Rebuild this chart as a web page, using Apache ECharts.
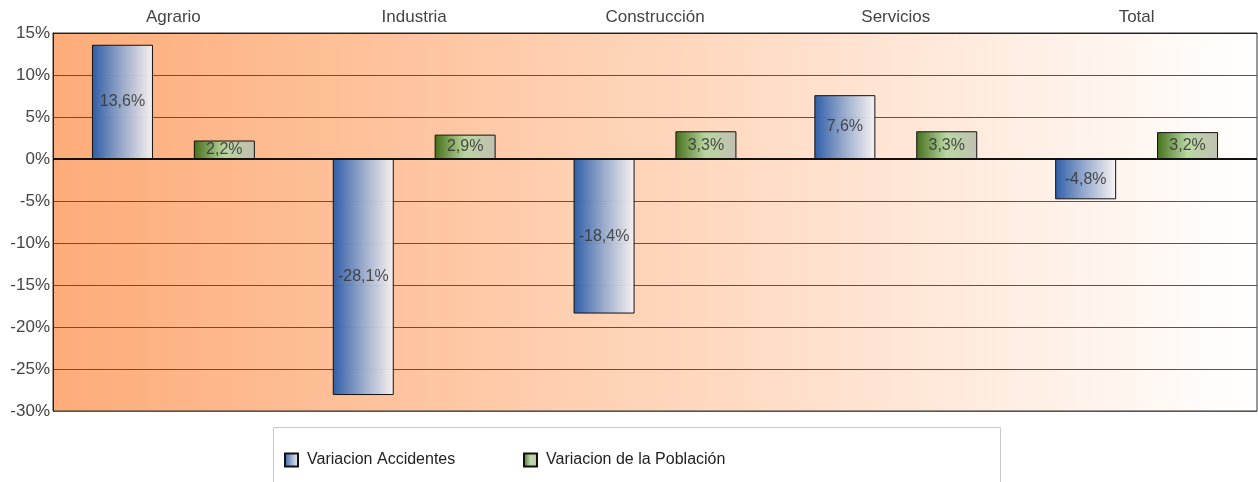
<!DOCTYPE html>
<html>
<head>
<meta charset="utf-8">
<script src="https://cdn.jsdelivr.net/npm/echarts@6/dist/echarts.min.js"></script>
<style>
html,body{margin:0;padding:0;background:#fff;}
#c{width:1258px;height:482px;}
</style>
</head>
<body>
<div id="c"></div>
<script>
const categories = ['Agrario', 'Industria', 'Construcción', 'Servicios', 'Total'];
const accidentes = [13.6, -28.1, -18.4, 7.6, -4.8];
const poblacion = [2.2, 2.9, 3.3, 3.3, 3.2];
const seriesNames = ['Variacion Accidentes', 'Variacion de la Población'];
const yTicks = { min: -30, max: 15, interval: 5 };

const font = "'Liberation Sans', Arial, sans-serif";
const G = echarts.graphic.LinearGradient;
const blueGrad = new G(0, 0, 1, 0, [
  { offset: 0, color: 'rgba(40,90,168,0.97)' },
  { offset: 0.5, color: 'rgba(150,170,205,0.95)' },
  { offset: 1, color: 'rgba(248,244,244,0.95)' }
]);
const greenGrad = new G(0, 0, 1, 0, [
  { offset: 0, color: 'rgba(62,108,20,0.97)' },
  { offset: 0.5, color: 'rgba(182,214,160,0.95)' },
  { offset: 1, color: 'rgba(190,190,176,0.95)' }
]);
const fmt = v => String(v.toFixed(1)).replace('.', ',') + '%';

const chart = echarts.init(document.getElementById('c'), null, { renderer: 'canvas' });
const legendText = { fontSize: 16, color: '#222', fontFamily: font, padding: [0, 0, 0, 4] };
chart.setOption({
  animation: false,
  textStyle: { fontFamily: font },
  grid: {
    left: 53, right: 1, top: 33, bottom: 71,
    show: true, borderColor: '#333', borderWidth: 1,
    backgroundColor: new G(0, 0, 1, 0, [
      { offset: 0, color: '#FDAC79' },
      { offset: 0.5, color: '#FFD5BA' },
      { offset: 1, color: '#FFFFFF' }
    ])
  },
  graphic: [{
    type: 'rect', left: 273, top: 427, z: 0,
    shape: { width: 727, height: 70 },
    style: { fill: '#fff', stroke: '#c8c8c8', lineWidth: 1 }
  }],
  legend: [{
    data: [seriesNames[0]], left: 279, top: 447, itemWidth: 13, itemHeight: 13, itemGap: 10,
    icon: 'rect', textStyle: legendText
  }, {
    data: [seriesNames[1]], left: 518, top: 447, itemWidth: 13, itemHeight: 13, itemGap: 10,
    icon: 'rect', textStyle: legendText
  }],
  xAxis: {
    type: 'category', data: categories, position: 'top',
    axisLine: { onZero: false, lineStyle: { color: '#222' } },
    axisTick: { show: false },
    axisLabel: { fontSize: 17, color: '#444', margin: 7, fontFamily: font }
  },
  yAxis: {
    type: 'value', min: yTicks.min, max: yTicks.max, interval: yTicks.interval,
    axisLine: { show: true, lineStyle: { color: '#222' } },
    axisTick: { show: false },
    axisLabel: { fontSize: 17, color: '#444', margin: 3, formatter: '{value}%', fontFamily: font },
    splitLine: { show: true, lineStyle: { color: '#555', width: 1 } }
  },
  series: [{
    name: seriesNames[0], type: 'bar', data: accidentes,
    barWidth: 61, barGap: '67%',
    itemStyle: { color: blueGrad, borderColor: '#111', borderWidth: 1 },
    label: { show: true, position: 'inside', fontSize: 16, color: 'rgba(50,50,50,0.85)', fontFamily: font,
      formatter: p => fmt(p.value) },
    markLine: {
      silent: true, symbol: 'none', label: { show: false },
      lineStyle: { color: '#111', width: 2, type: 'solid' },
      data: [{ yAxis: 0 }]
    }
  }, {
    name: seriesNames[1], type: 'bar', data: poblacion,
    barWidth: 61,
    itemStyle: { color: greenGrad, borderColor: '#111', borderWidth: 1 },
    label: { show: true, position: 'inside', fontSize: 16, color: 'rgba(50,50,50,0.85)', fontFamily: font,
      formatter: p => fmt(p.value) }
  }]
});
</script>
</body>
</html>
